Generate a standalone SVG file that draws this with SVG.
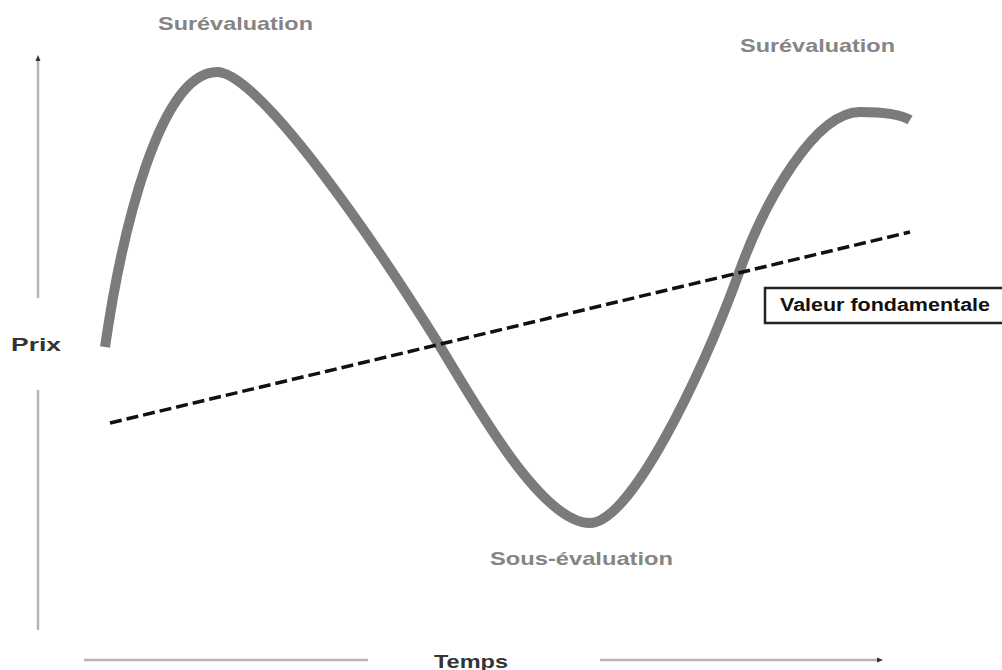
<svg xmlns="http://www.w3.org/2000/svg" width="1002" height="670" viewBox="0 0 1002 670">
<style>
.axis{stroke:#b4b4b4;stroke-width:2.5;fill:none}
.lbl{font-family:"Liberation Sans",Arial,sans-serif;font-weight:bold;font-size:19px;fill:#858585}
.ax{font-family:"Liberation Sans",Arial,sans-serif;font-weight:bold;font-size:19px;fill:#333}
</style>
<defs>
<marker id="tip" markerWidth="6" markerHeight="6" refX="3" refY="3" orient="auto" markerUnits="userSpaceOnUse">
<path d="M0,0.5 L6,3 L0,5.5 Z" fill="#333"/>
</marker>
</defs>
<rect width="1002" height="670" fill="#fff"/>
<g id="axes">
<line class="axis" x1="38" y1="630" x2="38" y2="390"/>
<line class="axis" x1="38" y1="298" x2="38" y2="58" marker-end="url(#tip)"/>
<line class="axis" x1="84" y1="660" x2="368" y2="660"/>
<line class="axis" x1="600" y1="660" x2="880" y2="660" marker-end="url(#tip)"/>
<text id="prix" class="ax" x="11" y="351" textLength="50" lengthAdjust="spacingAndGlyphs">Prix</text>
<text id="temps" class="ax" x="434" y="668" textLength="74" lengthAdjust="spacingAndGlyphs">Temps</text>
</g>
<g id="connectors">
<path id="prix-curve" d="M105,347 C122,230 160,72 217,72 C260,72 380,250 438,343 C472,398 540,523 590,523 C630,523 700,380 740,270 C765,201 815,112 860,112 C885,112 900,114 910,120" fill="none" stroke="#7b7b7b" stroke-width="10"/>
<line id="valeur-line" x1="110" y1="423" x2="910" y2="232" stroke="#111" stroke-width="3.5" stroke-dasharray="12,5"/>
</g>
<g id="labels">
<text id="sur1" class="lbl" x="158" y="30" textLength="155" lengthAdjust="spacingAndGlyphs">Surévaluation</text>
<text id="sur2" class="lbl" x="740" y="52" textLength="155" lengthAdjust="spacingAndGlyphs">Surévaluation</text>
<text id="sous" class="lbl" x="490" y="565" textLength="183" lengthAdjust="spacingAndGlyphs">Sous-évaluation</text>
</g>
<g id="valeur-box">
<rect x="765" y="288" width="245" height="35" fill="#fff" stroke="#222" stroke-width="2.5"/>
<text class="ax" x="780" y="311" style="fill:#111;font-size:18px" textLength="210" lengthAdjust="spacingAndGlyphs">Valeur fondamentale</text>
</g>
</svg>
